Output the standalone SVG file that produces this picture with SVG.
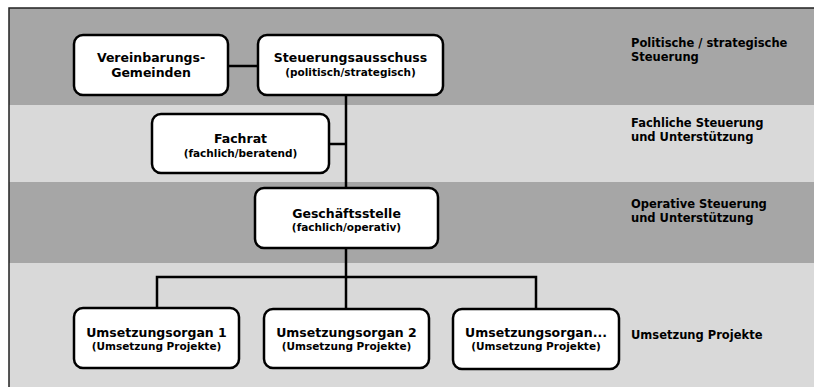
<svg xmlns="http://www.w3.org/2000/svg" width="814" height="387" viewBox="0 0 814 387">
<style>
.node rect{fill:#fff;stroke:#000;stroke-width:2.5}
text{font-family:"DejaVu Sans",Verdana,sans-serif;font-weight:bold;fill:#000}
.t{font-size:12.5px;text-anchor:middle}
.s{font-size:10.5px;text-anchor:middle}
.l{font-size:11.5px}
.conn path{fill:none;stroke:#000;stroke-width:2.5}
</style>
<rect x="0" y="0" width="814" height="387" fill="#fff"/>
<g id="bands">
<rect x="9" y="8" width="805" height="97" fill="#a6a6a6"/>
<rect x="9" y="105" width="805" height="77" fill="#d9d9d9"/>
<rect x="9" y="182" width="805" height="81" fill="#a6a6a6"/>
<rect x="9" y="263" width="805" height="124" fill="#d9d9d9"/>
<path d="M9,387 V8 H814" fill="none" stroke="#222" stroke-width="1.5"/>
</g>
<g id="band-labels">
<text class="l" x="631" y="47">Politische / strategische</text>
<text class="l" x="631" y="61">Steuerung</text>
<text class="l" x="631" y="127">Fachliche Steuerung</text>
<text class="l" x="631" y="141">und Unterstützung</text>
<text class="l" x="631" y="208">Operative Steuerung</text>
<text class="l" x="631" y="222">und Unterstützung</text>
<text class="l" x="631" y="339">Umsetzung Projekte</text>
</g>
<g class="conn" id="connectors">
<path d="M228,66 H258"/>
<path d="M346,95 V188"/>
<path d="M329,144 H346"/>
<path d="M346,248 V309"/>
<path d="M157,308 V277 H536 V309"/>
</g>
<g class="node" id="vereinbarungsgemeinden">
<rect x="74" y="35" width="154" height="60" rx="9"/>
<text class="t" x="151" y="62">Vereinbarungs-</text>
<text class="t" x="151" y="77">Gemeinden</text>
</g>
<g class="node" id="steuerungsausschuss">
<rect x="258" y="35" width="185" height="60" rx="9"/>
<text class="t" x="350.5" y="62">Steuerungsausschuss</text>
<text class="s" x="350.5" y="76">(politisch/strategisch)</text>
</g>
<g class="node" id="fachrat">
<rect x="152" y="114" width="177" height="59" rx="9"/>
<text class="t" x="240.5" y="143">Fachrat</text>
<text class="s" x="240.5" y="157">(fachlich/beratend)</text>
</g>
<g class="node" id="geschaeftsstelle">
<rect x="255" y="188" width="183" height="60" rx="9"/>
<text class="t" x="346.5" y="218">Geschäftsstelle</text>
<text class="s" x="346.5" y="231">(fachlich/operativ)</text>
</g>
<g class="node" id="umsetzungsorgan1">
<rect x="74" y="308" width="165" height="60" rx="9"/>
<text class="t" x="156.5" y="337">Umsetzungsorgan 1</text>
<text class="s" x="156.5" y="350">(Umsetzung Projekte)</text>
</g>
<g class="node" id="umsetzungsorgan2">
<rect x="264" y="309" width="165" height="59" rx="9"/>
<text class="t" x="346.5" y="337">Umsetzungsorgan 2</text>
<text class="s" x="346.5" y="350">(Umsetzung Projekte)</text>
</g>
<g class="node" id="umsetzungsorgan3">
<rect x="453" y="309" width="166" height="60" rx="9"/>
<text class="t" x="536" y="337">Umsetzungsorgan...</text>
<text class="s" x="536" y="350">(Umsetzung Projekte)</text>
</g>
</svg>
